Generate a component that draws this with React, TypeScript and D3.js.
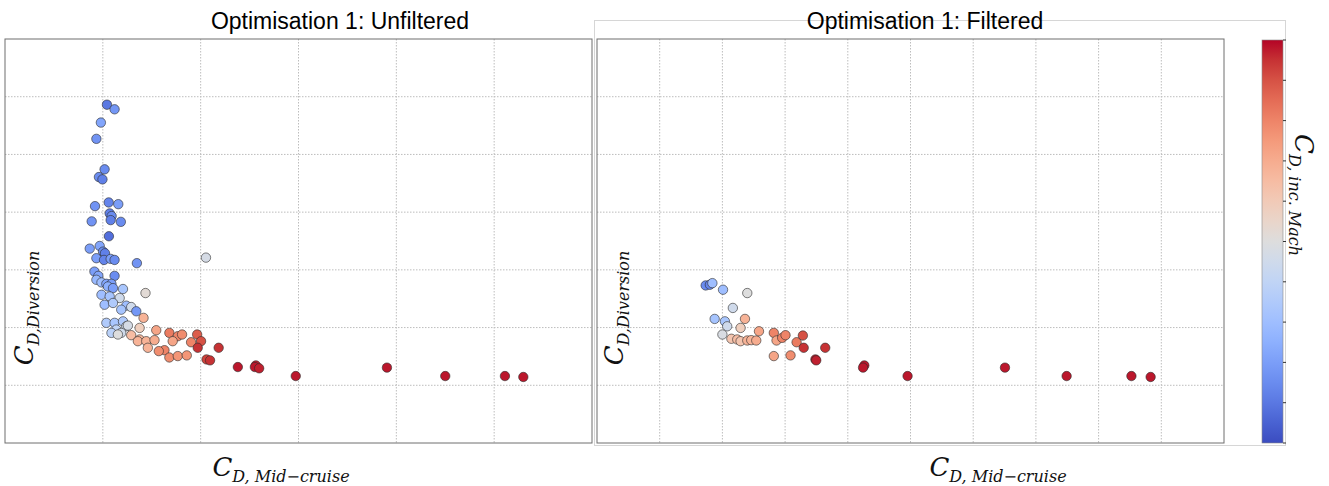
import React from 'react';
import * as d3 from 'd3';

// ---- data (x = C_D mid-cruise, y = C_D diversion, c = colour value 0..1) ----
const xDomain: [number, number] = [0, 30];
const yDomain: [number, number] = [0, 35];
const leftXTicks = [5, 10, 15, 20, 25];
const rightXTicks = [3, 6, 9, 12, 15, 18, 21, 24, 27];
const yTicks = [5, 10, 15, 20, 25, 30];
const colorbarTicks = [0, 0.1, 0.2, 0.3, 0.4, 0.5, 0.6, 0.7, 0.8, 0.9, 1];

const unfilteredPoints: [number, number, number][] = [
  [5.21, 29.31, 0.1], [5.6, 28.91, 0.18], [4.9, 27.76, 0.22], [4.67, 26.35, 0.17],
  [5.09, 23.71, 0.15], [4.8, 23.04, 0.15], [4.98, 22.84, 0.12], [4.6, 20.52, 0.17],
  [5.3, 20.84, 0.13], [5.79, 20.69, 0.2], [5.35, 19.89, 0.12], [5.45, 19.66, 0.15],
  [5.4, 19.31, 0.12], [5.92, 19.16, 0.15], [4.43, 19.2, 0.17], [5.31, 17.91, 0.08],
  [4.33, 16.84, 0.2], [4.84, 17.07, 0.22], [5.01, 16.58, 0.15], [5.11, 16.44, 0.12],
  [4.67, 16.01, 0.2], [5.06, 15.86, 0.13], [5.4, 15.95, 0.2], [5.6, 15.86, 0.15],
  [6.74, 15.58, 0.17], [10.27, 16.06, 0.47], [4.57, 14.85, 0.2], [4.77, 14.48, 0.22],
  [5.6, 14.48, 0.15], [4.67, 14.14, 0.28], [4.93, 13.91, 0.3], [5.18, 13.79, 0.22],
  [5.44, 13.79, 0.2], [5.26, 13.56, 0.25], [5.52, 13.42, 0.2], [6.03, 13.34, 0.33],
  [7.18, 12.99, 0.52], [4.93, 12.84, 0.3], [5.35, 12.7, 0.32], [5.86, 12.56, 0.45],
  [5.09, 11.98, 0.3], [5.52, 12.13, 0.35], [6.2, 11.9, 0.3], [5.94, 11.55, 0.32],
  [6.45, 11.78, 0.45], [6.71, 11.41, 0.18], [5.18, 10.41, 0.35], [5.6, 10.41, 0.33],
  [6.03, 10.54, 0.35], [6.2, 10.11, 0.45], [6.28, 10.17, 0.47], [5.69, 9.83, 0.4],
  [5.44, 9.54, 0.38], [5.94, 9.54, 0.45], [5.77, 9.4, 0.5], [7.08, 10.84, 0.68],
  [6.88, 9.97, 0.58], [6.45, 9.34, 0.65], [6.88, 8.97, 0.66], [6.79, 8.82, 0.68],
  [7.22, 8.82, 0.68], [7.64, 8.91, 0.7], [7.3, 8.25, 0.68], [7.73, 9.77, 0.72],
  [8.4, 9.54, 0.82], [8.83, 9.25, 0.8], [9.05, 9.4, 0.78], [8.57, 8.82, 0.72],
  [8.15, 8.04, 0.8], [7.86, 7.96, 0.78], [8.4, 7.41, 0.78], [8.83, 7.53, 0.76],
  [9.29, 7.59, 0.76], [9.82, 9.4, 0.88], [10.02, 8.82, 0.9], [9.51, 8.73, 0.8],
  [9.85, 8.25, 0.95], [10.92, 8.25, 0.95], [10.3, 7.24, 0.93], [10.48, 7.16, 0.95],
  [11.9, 6.58, 0.98], [12.82, 6.72, 0.97], [12.77, 6.58, 0.98], [12.99, 6.47, 0.97],
  [14.86, 5.8, 0.98], [19.52, 6.53, 0.98], [22.5, 5.8, 0.98], [25.55, 5.8, 0.98],
  [26.49, 5.72, 0.98],
];

const filteredPoints: [number, number, number][] = [
  [5.2, 13.65, 0.15], [5.4, 13.71, 0.13], [5.52, 13.85, 0.3], [6.03, 13.28, 0.3],
  [7.19, 12.99, 0.5], [6.5, 11.7, 0.45], [5.63, 10.75, 0.32], [6.12, 10.54, 0.33],
  [6.23, 10.11, 0.45], [7.08, 10.75, 0.68], [6.87, 9.97, 0.58], [6.0, 9.4, 0.48],
  [6.43, 9.03, 0.62], [6.71, 8.97, 0.65], [6.87, 8.82, 0.62], [7.19, 8.88, 0.68],
  [7.38, 8.91, 0.68], [7.62, 8.88, 0.7], [7.75, 9.68, 0.72], [8.46, 9.54, 0.8],
  [8.59, 8.88, 0.72], [8.86, 9.11, 0.8], [9.02, 9.34, 0.8], [9.55, 8.73, 0.82],
  [9.85, 9.31, 0.9], [9.89, 8.25, 0.95], [10.92, 8.25, 0.95], [8.46, 7.53, 0.72],
  [9.26, 7.59, 0.78], [10.45, 7.24, 0.97], [10.49, 7.16, 0.97], [12.79, 6.72, 0.98],
  [12.73, 6.53, 0.98], [14.86, 5.8, 0.98], [19.52, 6.53, 0.98], [22.47, 5.8, 0.98],
  [25.57, 5.8, 0.98], [26.49, 5.72, 0.98],
];

// coolwarm colormap control colours
const coolwarm = [
  '#3b4cc0', '#4d68d7', '#6282ea', '#779af7', '#8db0fe', '#a3c2ff', '#b8d0f9',
  '#ccd9ee', '#dddddd', '#ecd3c5', '#f5c4ad', '#f7b194', '#f49a7b', '#ec7f63',
  '#de604d', '#cb3e38', '#b40426',
];
const colorScale = d3
  .scaleLinear<string>()
  .domain(coolwarm.map((_, i) => i / (coolwarm.length - 1)))
  .range(coolwarm)
  .interpolate(d3.interpolateRgb)
  .clamp(true);

const W = 1329;
const H = 486;
const yScale = d3.scaleLinear().domain(yDomain).range([443, 39]);
const leftX = d3.scaleLinear().domain(xDomain).range([5, 592]);
const rightX = d3.scaleLinear().domain(xDomain).range([597, 1224]);
const cbScale = d3.scaleLinear().domain([0, 1]).range([443, 40]);

const mathFont = "'DejaVu Serif', serif";
const titleFont = "'Liberation Sans', Arial, sans-serif";

function MathLabel(props: { main: string; sub: string; transform: string }) {
  return (
    <text
      transform={props.transform}
      textAnchor="middle"
      fontFamily={mathFont}
      fontStyle="italic"
      fill="#111"
    >
      <tspan fontSize={26}>{props.main}</tspan>
      <tspan fontSize={16} dy={6}>{props.sub}</tspan>
    </text>
  );
}

function Panel(props: {
  x: d3.ScaleLinear<number, number>;
  xTicks: number[];
  points: [number, number, number][];
  title: string;
  titleX: number;
  xLabelX: number;
  yLabelX: number;
}) {
  const { x, xTicks, points } = props;
  const [x0, x1] = x.range();
  const [y0, y1] = yScale.range();
  return (
    <g>
      <rect x={x0} y={y1} width={x1 - x0} height={y0 - y1} fill="#fff" />
      {xTicks.map((t) => (
        <line
          key={'gx' + t}
          x1={x(t)}
          x2={x(t)}
          y1={y1}
          y2={y0}
          stroke="#bdbdbd"
          strokeWidth={1}
          strokeDasharray="1.5,1.5"
        />
      ))}
      {yTicks.map((t) => (
        <line
          key={'gy' + t}
          x1={x0}
          x2={x1}
          y1={yScale(t)}
          y2={yScale(t)}
          stroke="#bdbdbd"
          strokeWidth={1}
          strokeDasharray="1.5,1.5"
        />
      ))}
      <rect
        x={x0}
        y={y1}
        width={x1 - x0}
        height={y0 - y1}
        fill="none"
        stroke="#6e6e6e"
        strokeWidth={1}
      />
      {points.map((p, i) => (
        <circle
          key={i}
          cx={x(p[0])}
          cy={yScale(p[1])}
          r={4.7}
          fill={colorScale(p[2])}
          stroke="#2a2a2a"
          strokeWidth={0.6}
        />
      ))}
      <text
        x={props.titleX}
        y={29}
        textAnchor="middle"
        fontFamily={titleFont}
        fontSize={23}
        fill="#000"
      >
        {props.title}
      </text>
      <MathLabel main="C" sub="D, Mid−cruise" transform={`translate(${props.xLabelX},476)`} />
      <MathLabel main="C" sub="D,Diversion" transform={`translate(${props.yLabelX},308) rotate(-90)`} />
    </g>
  );
}

export default function App() {
  const gradStops = d3.range(0, 1.0001, 0.05);
  return (
    <svg
      width={W}
      height={H}
      style={{ position: 'absolute', left: 0, top: 0, background: '#fff' }}
    >
      <defs>
        <linearGradient id="cb" x1="0" y1="1" x2="0" y2="0">
          {gradStops.map((s) => (
            <stop key={s} offset={s} stopColor={colorScale(s)} />
          ))}
        </linearGradient>
      </defs>
      <rect x={0} y={0} width={W} height={H} fill="#fff" />
      {/* right panel outer frame */}
      <rect x={594.5} y={20.5} width={691} height={425} fill="none" stroke="#d6d6d6" strokeWidth={1} />
      <Panel
        x={leftX}
        xTicks={leftXTicks}
        points={unfilteredPoints}
        title="Optimisation 1: Unfiltered"
        titleX={340}
        xLabelX={281}
        yLabelX={33}
      />
      <Panel
        x={rightX}
        xTicks={rightXTicks}
        points={filteredPoints}
        title="Optimisation 1: Filtered"
        titleX={925}
        xLabelX={998}
        yLabelX={623}
      />
      {/* colorbar */}
      <rect x={1262} y={40} width={21} height={403} fill="url(#cb)" stroke="#8a8a8a" strokeWidth={0.6} />
      {colorbarTicks.map((t) => (
        <line key={t} x1={1283} x2={1286} y1={cbScale(t)} y2={cbScale(t)} stroke="#333" strokeWidth={1} />
      ))}
      <MathLabel main="C" sub="D, inc. Mach" transform="translate(1295,195) rotate(90)" />
    </svg>
  );
}
